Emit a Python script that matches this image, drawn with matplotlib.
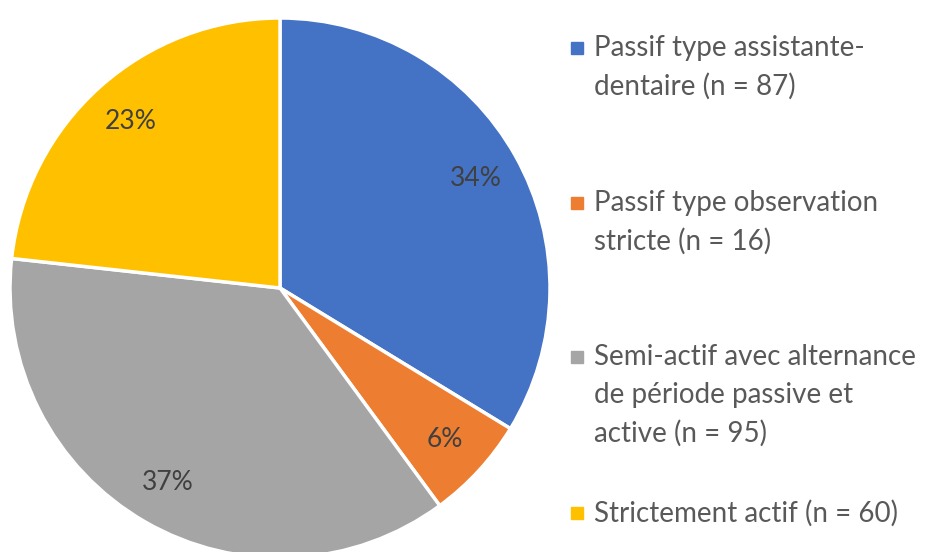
import matplotlib.pyplot as plt
from matplotlib.patches import Rectangle

# data
labels = ["Passif type assistante-\ndentaire (n = 87)",
          "Passif type observation\nstricte (n = 16)",
          "Semi-actif avec alternance\nde période passive et\nactive (n = 95)",
          "Strictement actif (n = 60)"]
counts = [87, 16, 95, 60]
colors = ["#4472C4", "#ED7D31", "#A5A5A5", "#FFC000"]

plt.rcParams['font.family'] = ['Lato', 'DejaVu Sans']

fig = plt.figure(figsize=(9.4, 5.52), dpi=100)
W, H = 940, 552
ax = fig.add_axes([10 / W, (552 - 558) / H, 540 / W, 540 / H])

wedges, texts, autotexts = ax.pie(
    counts, colors=colors, startangle=90, counterclock=False,
    autopct=lambda p: "%d%%" % round(p), pctdistance=0.83, radius=1,
    wedgeprops=dict(edgecolor="white", linewidth=2.5),
    textprops=dict(color="#404040", fontsize=19))
ax.set_xlim(-1, 1)
ax.set_ylim(-1, 1)
ax.set_aspect("equal")
ax.axis("off")

# legend drawn by hand, Excel style (marker on first line)
item_y = [48, 203, 357, 513]
line_h = 38
for lab, col, y in zip(labels, colors, item_y):
    fig.add_artist(Rectangle((571 / W, 1 - (y + 6) / H), 12 / W, 12 / H,
                             transform=fig.transFigure, color=col))
    for i, line in enumerate(lab.split("\n")):
        fig.text(594 / W, 1 - (y + i * line_h) / H, line, fontsize=20,
                 color="#595959", va="center", ha="left")

fig.savefig("out.png", dpi=100)
